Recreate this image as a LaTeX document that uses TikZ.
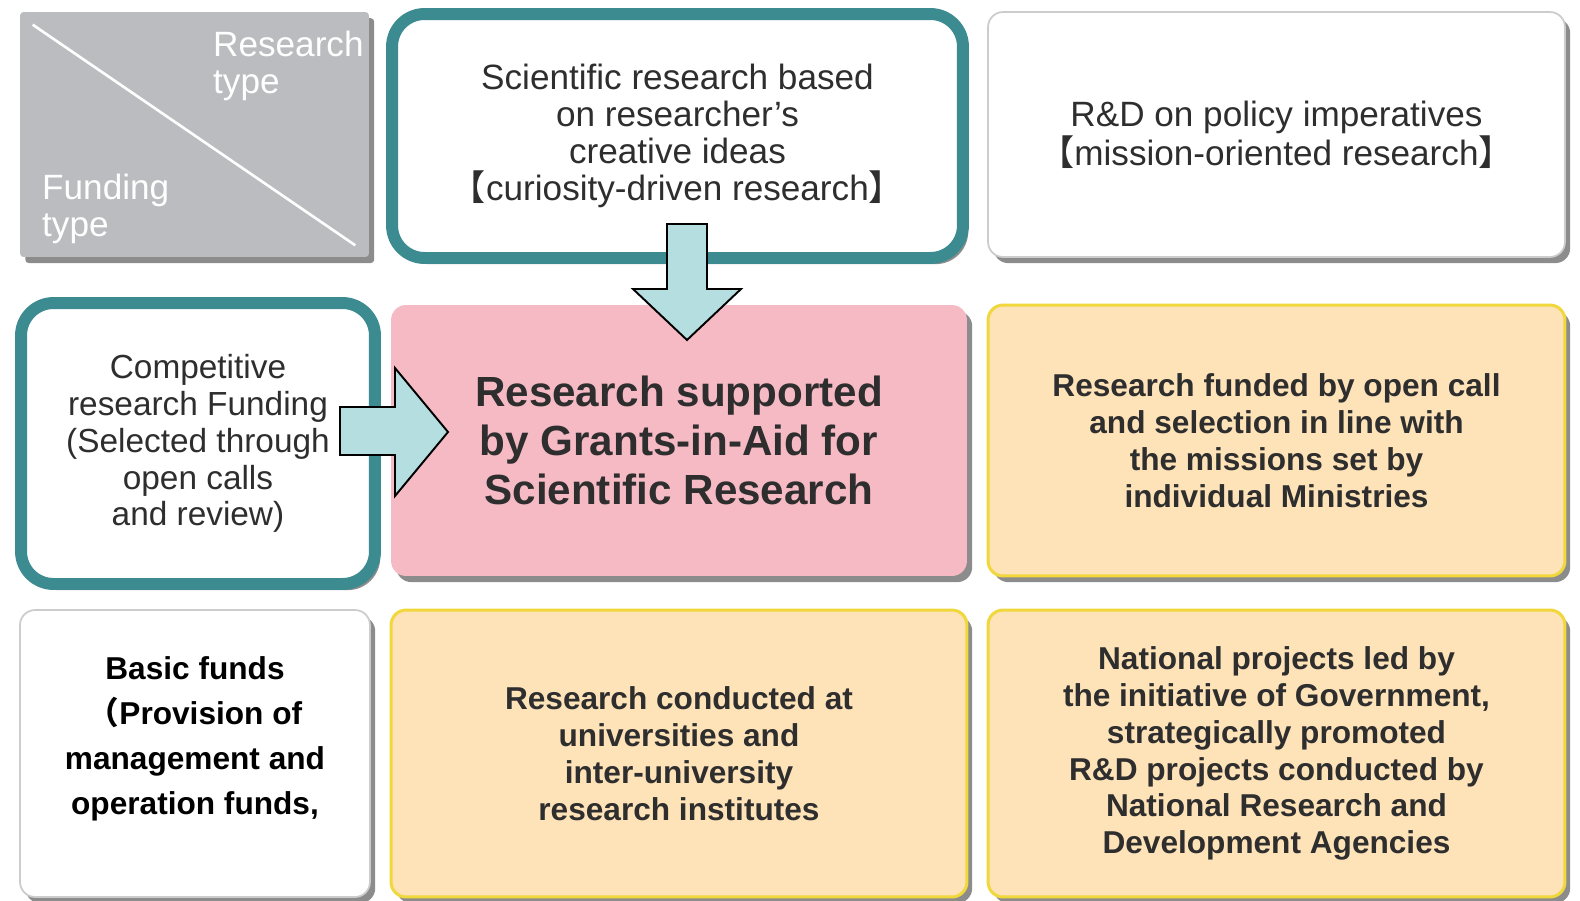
\documentclass[tikz,border=0pt]{standalone}
\usepackage{fontspec}
\setmainfont{Liberation Sans}
\newfontfamily\cjk{Noto Sans CJK SC}
\usepackage{tikz}
\usetikzlibrary{shadows}

\definecolor{tealc}{HTML}{3C8B91}
\definecolor{pinkc}{HTML}{F6BAC5}
\definecolor{yfill}{HTML}{FEE2B8}
\definecolor{yline}{HTML}{F0D83C}
\definecolor{grayc}{HTML}{BABCBF}
\definecolor{arrowc}{HTML}{B5DEE1}
\definecolor{txtc}{HTML}{2E2E2E}

\begin{document}
\begin{tikzpicture}[x=0.02cm, y=-0.02cm]

\tikzstyle{box} = [rectangle, inner sep=0pt, align=center, rounded corners=0.3cm,
                   drop shadow={shadow xshift=3pt, shadow yshift=-3.5pt, fill=black!60, opacity=0.75}]
\tikzstyle{wbox} = [box, draw=gray!40, line width=1pt, fill=white, text=txtc,
                    font=\fontsize{20}{21}\selectfont]
\tikzstyle{tbox} = [wbox, draw=tealc, line width=6.8pt, rounded corners=0.65cm]
\tikzstyle{ybox} = [box, draw=yline, line width=1.7pt, fill=yfill, text=txtc,
                    font=\bfseries\fontsize{18}{21}\selectfont]
\tikzstyle{blk} = [draw=black, fill=arrowc, line width=1.1pt, line join=miter]

\useasboundingbox (0,0) rectangle (1580,900);

% corner cell
\node[box, fill=grayc, rounded corners=2pt, minimum width=6.98cm, minimum height=4.9cm]
      (typ) at (194.5,134.5) {};
\draw[white, line width=1.5pt] ([shift={(13,13)}]typ.north west) -- ([shift={(-14,-12)}]typ.south east);
\node[text=white, align=left, anchor=west, font=\fontsize{20}{21}\selectfont]
      (rtype) at (207,65.5) {Research\\type};
\node[text=white, align=left, anchor=west, font=\fontsize{20}{21}\selectfont]
      (ftype) at (36,209) {Funding\\type};

% research type (top row)
\node[tbox, minimum width=11.42cm, minimum height=4.88cm] (cur) at (677.5,136)
      {Scientific research based\\on researcher's\\creative ideas\\{\cjk 【}curiosity-driven research{\cjk 】}};
\node[wbox, minimum width=11.54cm, minimum height=4.9cm] (mis) at (1276.5,134.5)
      {R\&D on policy imperatives\\{\cjk 【}mission-oriented research{\cjk 】}};

% funding type (left column)
\node[tbox, minimum width=7.08cm, minimum height=5.62cm, font=\fontsize{19}{21}\selectfont]
      (comp) at (198,443.5)
      {Competitive\\research Funding\\(Selected through\\open calls\\and review)};
\node[wbox, minimum width=7cm, minimum height=5.74cm] (basic) at (195,753.5) {};
\node[text=black, align=center, font=\bfseries\fontsize{18}{25.5}\selectfont]
      (basictxt) at (195,739) {Basic funds\\{\cjk （}Provision of\\management and\\operation funds,};

% cells
\node[box, fill=pinkc, text=txtc, minimum width=11.52cm, minimum height=5.42cm,
      font=\bfseries\fontsize{24}{28}\selectfont] (kaken) at (679,440.5)
      {Research supported\\by Grants-in-Aid for\\Scientific Research};
\node[ybox, minimum width=11.54cm, minimum height=5.42cm] (call) at (1276.5,440.5)
      {Research funded by open call\\and selection in line with\\the missions set by\\individual Ministries};
\node[ybox, minimum width=11.52cm, minimum height=5.74cm] (univ) at (679,753.5)
      {Research conducted at\\universities and\\inter-university\\research institutes};
\node[ybox, minimum width=11.54cm, minimum height=5.74cm] (natl) at (1276.5,753.5)
      {National projects led by\\the initiative of Government,\\strategically promoted\\R\&D projects conducted by\\National Research and\\Development Agencies};

% block arrows
\draw[blk] (667,224) -- (707,224) -- (707,289) -- (741,289) -- (687,340)
           -- (633,289) -- (667,289) -- cycle;
\draw[blk] (340,407) -- (395,407) -- (395,368) -- (448,432) -- (395,496)
           -- (395,455) -- (340,455) -- cycle;

\end{tikzpicture}
\end{document}
